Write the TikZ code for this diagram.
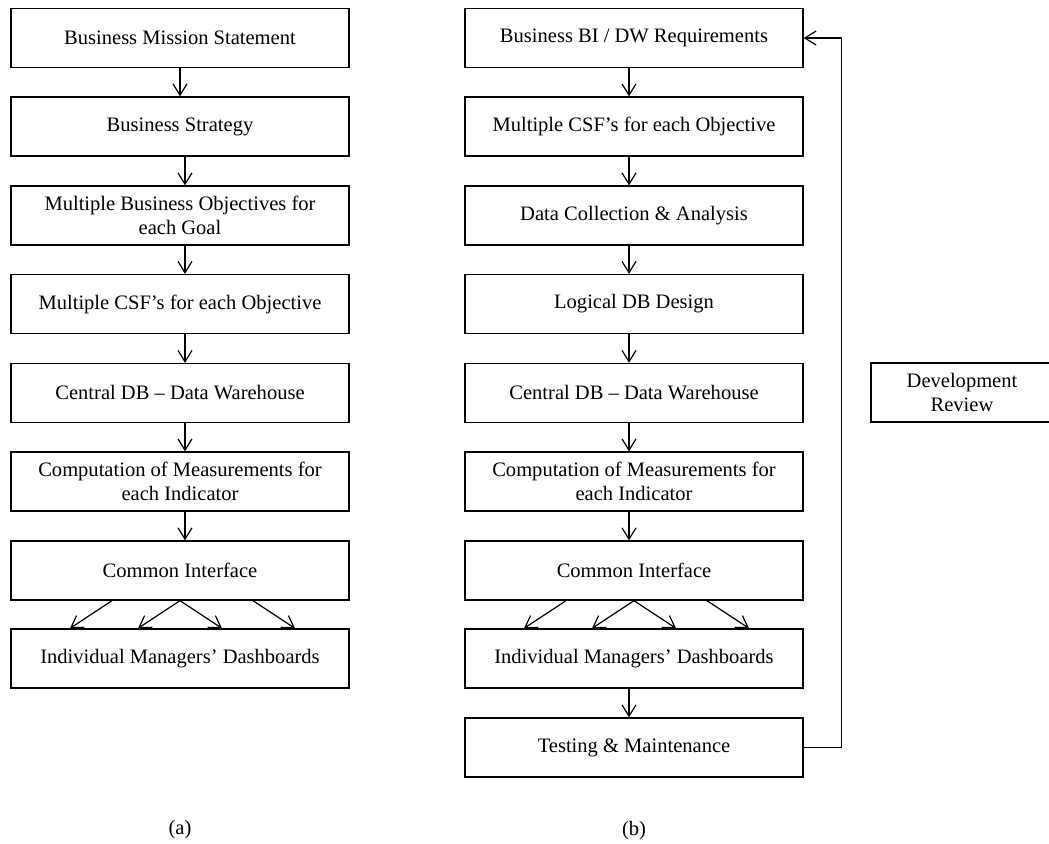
\documentclass[tikz,border=0pt]{standalone}
\usepackage{fontspec}
\setmainfont{Liberation Serif}
\usetikzlibrary{arrows.meta}
\begin{document}
\begin{tikzpicture}[x=0.75pt,y=-0.75pt,
  box/.style={draw,line width=1pt,minimum width=253.5pt,minimum height=44.25pt,inner sep=0pt,align=center,font=\fontsize{15.4}{18}\selectfont},
  arr/.style={line width=0.9pt,-{Straight Barb[length=8.5pt,width=10.5pt]}},
  captext/.style={font=\fontsize{15.4}{18}\selectfont,inner sep=0pt}]
\useasboundingbox (0,0) rectangle (1049,843);
% left column
\node[box] (a1) at (180,38) {Business Mission Statement};
\node[box] (a2) at (180,126.5) {Business Strategy};
\node[box] (a3) at (180,215.5) {Multiple Business Objectives for\\each Goal};
\node[box] (a4) at (180,304) {Multiple CSF’s for each Objective};
\node[box] (a5) at (180,393) {Central DB – Data Warehouse};
\node[box] (a6) at (180,481.5) {Computation of Measurements for\\each Indicator};
\node[box] (a7) at (180,570.5) {Common Interface};
\node[box] (a8) at (180,658.5) {Individual Managers’ Dashboards};
% right column
\node[box] (b1) at (634,38) {Business BI / DW Requirements};
\node[box] (b2) at (634,126.5) {Multiple CSF’s for each Objective};
\node[box] (b3) at (634,215.5) {Data Collection \& Analysis};
\node[box] (b4) at (634,304) {Logical DB Design};
\node[box] (b5) at (634,393) {Central DB – Data Warehouse};
\node[box] (b6) at (634,481.5) {Computation of Measurements for\\each Indicator};
\node[box] (b7) at (634,570.5) {Common Interface};
\node[box] (b8) at (634,658.5) {Individual Managers’ Dashboards};
\node[box] (b9) at (634,747.5) {Testing \& Maintenance};
% development review
\node[box,minimum width=136.5pt] (dr) at (962,392.5) {Development\\Review};
% captions
\node[captext] (capa) at (180,830) {(a)};
\node[captext] (capb) at (634,831) {(b)};
% left arrows
\draw[arr] (a1.south) -- (a2.north);
\foreach \u/\v in {a2/a3,a3/a4,a4/a5,a5/a6,a6/a7}
  \draw[arr] ([xshift=3.75pt]\u.south) -- ([xshift=3.75pt]\v.north);
% right arrows
\foreach \u/\v in {b1/b2,b2/b3,b3/b4,b4/b5,b5/b6,b6/b7,b8/b9}
  \draw[arr] ([xshift=-3.75pt]\u.south) -- ([xshift=-3.75pt]\v.north);
% fan arrows
\foreach \c/\d in {a7/a8,b7/b8}{
  \draw[arr] ([xshift=-51pt]\c.south) -- ([xshift=-82.5pt]\d.north);
  \draw[arr] (\c.south) -- ([xshift=-31.5pt]\d.north);
  \draw[arr] (\c.south) -- ([xshift=31.5pt]\d.north);
  \draw[arr] ([xshift=54.75pt]\c.south) -- ([xshift=86.25pt]\d.north);
}
% feedback
\draw[arr] (b9.east) -- ++(38,0) |- (b1.east);
\end{tikzpicture}
\end{document}
